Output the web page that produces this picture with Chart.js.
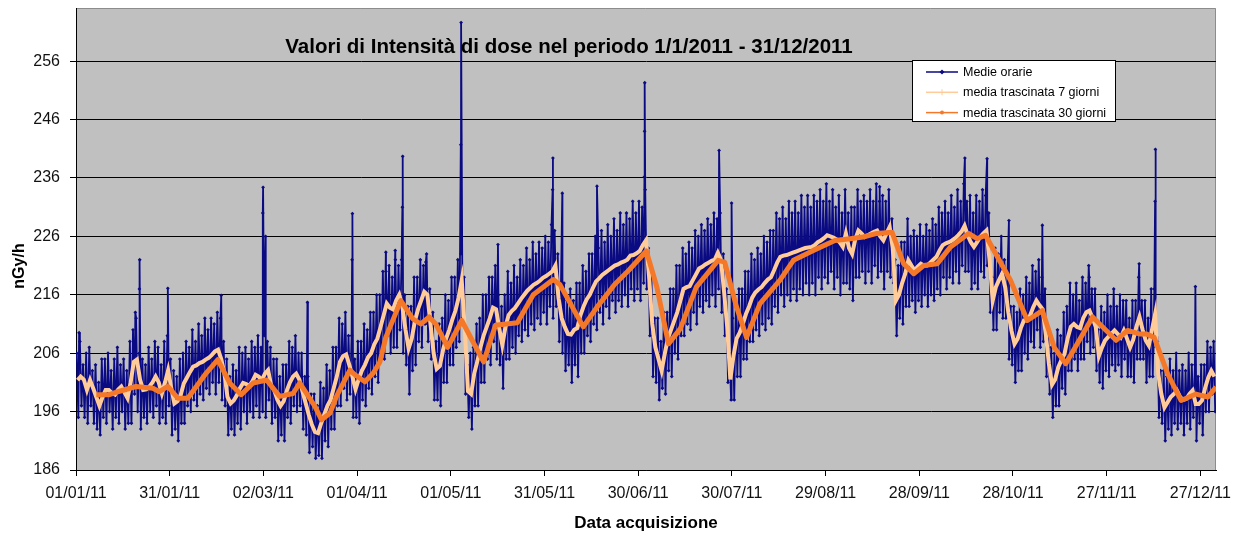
<!DOCTYPE html>
<html>
<head>
<meta charset="utf-8">
<title>Intensità di dose 2011</title>
<script src="https://cdn.jsdelivr.net/npm/chart.js@4.4.1/dist/chart.umd.min.js"></script>
<style>
  body { margin: 0; background: #fff; }
  canvas { display: block; }
</style>
</head>
<body>
<canvas id="doseChart" width="1242" height="539"></canvas>
<script>
// Dose rate 2011 (nGy/h), x = days since 01/01/2011

const chartTitle = 'Valori di Intensità di dose nel periodo 1/1/2011 - 31/12/2011';
const seriesNames = ['Medie orarie', 'media trascinata 7 giorni', 'media trascinata 30 giorni'];
const xTitle = 'Data acquisizione';
const yTitle = 'nGy/h';

const xTickDays = [0, 30, 60, 90, 120, 150, 180, 210, 240, 270, 300, 330, 360];
const dateLabels = ['01/01/11', '31/01/11', '02/03/11', '01/04/11', '01/05/11', '31/05/11', '30/06/11',
  '30/07/11', '29/08/11', '28/09/11', '28/10/11', '27/11/11', '27/12/11'];
const yTicks = [186, 196, 206, 216, 226, 236, 246, 256];

// hourly means: daily upper and lower envelope, one value per day
const hourlyHigh = [
  206, 208, 204, 206, 207, 203, 204, 201, 205, 205,
  206, 203, 205, 207, 204, 205, 203, 208, 210, 212,
  206, 205, 204, 207, 205, 208, 207, 204, 208, 209,
  205, 203, 202, 205, 206, 208, 207, 210, 208, 211,
  209, 212, 210, 212, 211, 213, 212, 208, 205, 202,
  204, 203, 207, 206, 207, 205, 208, 207, 209, 207,
  209, 208, 207, 205, 205, 202, 204, 204, 208, 207,
  209, 206, 206, 202, 202, 199, 199, 197, 201, 200,
  204, 203, 207, 207, 212, 211, 213, 209, 209, 205,
  208, 208, 211, 210, 213, 213, 216, 216, 220, 220,
  221, 219, 222, 221, 222, 216, 214, 214, 219, 219,
  222, 221, 223, 217, 213, 208, 211, 212, 216, 215,
  219, 219, 222, 223, 219, 204, 206, 207, 211, 212,
  216, 216, 219, 219, 221, 216, 214, 216, 220, 218,
  221, 219, 222, 221, 224, 222, 225, 223, 225, 224,
  226, 225, 228, 227, 223, 217, 218, 215, 217, 215,
  218, 218, 221, 220, 223, 223, 226, 224, 227, 225,
  228, 226, 229, 227, 230, 228, 230, 229, 232, 230,
  232, 231, 234, 224, 219, 212, 212, 208, 213, 213,
  217, 217, 221, 221, 224, 223, 225, 224, 227, 226,
  228, 227, 229, 228, 230, 229, 230, 223, 217, 206,
  212, 214, 217, 217, 220, 220, 223, 222, 224, 223,
  226, 225, 227, 227, 230, 229, 231, 229, 232, 230,
  232, 230, 233, 231, 233, 231, 233, 232, 234, 232,
  235, 232, 234, 231, 233, 230, 234, 230, 231, 231,
  234, 232, 233, 232, 234, 232, 235, 232, 233, 232,
  234, 229, 222, 221, 225, 225, 229, 226, 227, 226,
  228, 226, 228, 227, 229, 228, 231, 230, 232, 230,
  233, 231, 234, 232, 235, 232, 233, 230, 233, 232,
  234, 233, 230, 219, 224, 223, 226, 222, 220, 214,
  214, 213, 217, 216, 219, 218, 221, 220, 222, 219,
  217, 210, 207, 206, 210, 209, 213, 214, 218, 216,
  218, 215, 219, 218, 221, 217, 217, 210, 214, 213,
  216, 214, 217, 214, 216, 215, 215, 212, 215, 215,
  219, 215, 215, 212, 217, 217, 208, 203, 203, 202,
  205, 203, 206, 203, 204, 203, 206, 204, 204, 202,
  204, 204, 208, 207, 208
];
const hourlyLow = [
  195, 197, 195, 194, 197, 194, 193, 192, 195, 194,
  196, 193, 195, 194, 196, 193, 194, 194, 199, 196,
  193, 195, 194, 196, 195, 197, 194, 195, 194, 197,
  192, 193, 191, 194, 194, 197, 196, 198, 197, 199,
  198, 200, 199, 201, 199, 201, 198, 197, 192, 193,
  192, 194, 193, 196, 194, 196, 195, 197, 195, 196,
  195, 198, 194, 195, 191, 192, 191, 195, 194, 197,
  196, 197, 193, 192, 189, 190, 188, 188.5, 188, 191,
  190, 193, 193, 197, 197, 200, 198, 199, 195, 195,
  194, 198, 197, 200, 199, 202, 201, 205, 205, 209,
  206, 207, 207, 210, 206, 204, 199, 203, 204, 208,
  207, 211, 208, 205, 198, 198, 197, 201, 201, 204,
  204, 207, 208, 212, 199, 195, 193, 197, 197, 201,
  201, 205, 204, 208, 205, 204, 200, 205, 205, 207,
  206, 209, 208, 210, 209, 211, 210, 212, 211, 213,
  211, 214, 212, 214, 208, 206, 203, 204, 201, 204,
  202, 206, 206, 209, 208, 211, 210, 213, 211, 214,
  212, 215, 213, 215, 214, 216, 214, 217, 215, 217,
  215, 218, 217, 209, 202, 201, 198, 200, 199, 203,
  202, 206, 205, 209, 209, 211, 210, 213, 211, 214,
  213, 215, 214, 216, 214, 217, 213, 209, 201, 198,
  198, 202, 202, 205, 205, 208, 208, 210, 209, 211,
  210, 212, 211, 214, 213, 216, 214, 216, 215, 217,
  215, 217, 216, 218, 216, 218, 216, 219, 217, 219,
  218, 220, 217, 219, 216, 218, 218, 217, 215, 219,
  219, 220, 218, 220, 218, 221, 219, 220, 217, 220,
  219, 218, 209, 212, 211, 214, 214, 215, 213, 215,
  214, 216, 214, 216, 215, 217, 216, 219, 217, 219,
  218, 220, 218, 221, 220, 220, 217, 218, 217, 220,
  219, 221, 213, 210, 210, 213, 212, 212, 205, 204,
  201, 203, 203, 206, 205, 208, 207, 210, 207, 208,
  202, 199, 195, 197, 197, 200, 199, 203, 203, 205,
  203, 205, 205, 208, 206, 207, 203, 201, 200, 203,
  202, 204, 203, 204, 202, 205, 202, 202, 201, 205,
  205, 205, 201, 202, 202, 207, 195, 194, 191, 193,
  192, 194, 193, 194, 192, 194, 193, 195, 191, 194,
  192, 196, 196, 199, 196
];
// isolated hourly peaks: [day, nGy/h]
const hourlySpikes = [
  [1, 209.5], [19, 213], [20.3, 217], [20.4, 222], [29.4, 217.1], [46.5, 215.9],
  [59.8, 230], [59.9, 234.4], [60.7, 226], [74.1, 214.7], [88.4, 222], [88.5, 229.9],
  [99.2, 223.3], [102.2, 223.6], [104.5, 231], [104.6, 239.7], [112, 221.6],
  [123.2, 241.7], [123.3, 262.6], [135.1, 224.6], [152.6, 234], [152.7, 239.4],
  [155.7, 233.4], [166.8, 234.6], [182, 236.2], [182.05, 244], [182.1, 252.3],
  [205.9, 240.7], [209.9, 231.7], [257.3, 234.5], [284.6, 239.4], [291.7, 239.3],
  [298.7, 228.7], [309.4, 227.9], [324.4, 219], [340.4, 221.3], [345.5, 232],
  [345.6, 240.9], [358.4, 217.4]
];

// 7-day running mean, one value per day
const media7 = [
  201.4, 202, 201.5, 199.7, 201.4, 200, 198.5, 197, 198.5, 199.7,
  199.7, 199.2, 198.9, 199.8, 200.3, 199.3, 198.3, 201, 204.5, 204.9,
  201.5, 199.7, 199.8, 200.3, 201, 202, 201, 199.1, 201, 203.1,
  200, 197.4, 197.8, 198.8, 200.8, 201.8, 202.8, 203.7, 203.9, 204.3,
  204.5, 204.9, 205.2, 205.7, 206.3, 206.6, 205, 202.6, 198.5, 197.4,
  197.9, 198.8, 200, 200.9, 200.7, 200.4, 201.2, 202.3, 202, 201.4,
  202.5, 203.1, 200.5, 199.6, 198, 197, 197.8, 199.6, 201, 202,
  202.5, 201.5, 199.5, 197.5, 195.5, 193.8, 192.5, 192.3, 194, 195.5,
  197, 198, 200, 202, 204.5, 205.5, 205.8, 204, 202, 199.8,
  201.5, 203, 204, 205.3, 206, 207.5, 208.5, 210.5, 212.5, 214.5,
  213.8, 213.5, 215, 216, 214, 210, 206.8, 208.5, 211.5, 213.5,
  215, 216.5, 216, 211, 206, 203.3, 203.8, 206.5, 208.5, 210,
  211.8, 213.3, 215.5, 218.5, 210, 199.5, 199, 202.5, 204.6, 207,
  209, 210.5, 212, 213.8, 213.5, 210.3, 207.4, 210.5, 212.5, 213.2,
  213.7, 214.5, 215.3, 216, 216.7, 217.2, 217.7, 218, 218.4, 218.9,
  219.2, 219.6, 220, 221, 215.4, 212, 210.5, 209.3, 209.2, 210,
  210.3, 212.5, 214, 215.2, 216, 217.2, 218.3, 218.8, 219.4, 219.8,
  220.2, 220.6, 221, 221.2, 221.5, 221.7, 222, 222.7, 222.8, 223.1,
  223.5, 224.5, 225.3, 219, 211, 207, 205, 203, 205.9, 208.5,
  210, 211.5, 213, 215, 217, 217.3, 217.5, 218.5, 219.5, 220.5,
  220.8, 221.2, 221.5, 221.8, 222, 223.2, 222, 216.5, 210.5, 201.5,
  205.5, 208.5, 209.5, 211, 212.7, 214, 215.5, 216.4, 216.9, 217.3,
  218, 218.6, 219, 220.2, 221.5, 222.5, 222.7, 222.8, 223, 223.2,
  223.4, 223.6, 223.8, 224, 224.1, 224.2, 224.5, 225, 225.3, 225.7,
  226.2, 226, 225.8, 225.5, 225, 224.2, 226.5, 224, 223, 225.5,
  227, 226.5, 225.9, 226.2, 226.5, 226.8, 227, 226, 225.3, 226.5,
  227.6, 224, 215, 216, 218, 219.6, 221.9, 221, 220.2, 220.8,
  221.3, 221, 221, 221.5, 222, 222.5, 223.6, 224.5, 224.8, 225,
  225.3, 225.7, 226.2, 226.8, 227.8, 226.2, 225, 224.2, 225, 225.9,
  226.5, 227, 222, 215, 217.3, 218.5, 219.6, 217.3, 213, 209.9,
  207.6, 208.5, 210.3, 211.6, 211.6, 212.5, 213.9, 215, 214.2, 213.5,
  209.3, 204.2, 200.6, 201.5, 203.6, 204.8, 205.9, 208.5, 210.5, 211,
  210.5, 210.3, 212, 213, 213.3, 212, 210.5, 205.5, 207, 208.2,
  208.8, 209.3, 209.9, 209.3, 208.7, 209.9, 208.5, 207, 208.3, 210.5,
  212.2, 210, 208.2, 207.3, 210, 212.7, 202.5, 199, 196.7, 197.6,
  198.5, 199, 199.6, 198.5, 198, 198.2, 199, 199.6, 197.3, 197.3,
  197.9, 200, 201.8, 203, 202
];

// 30-day running mean: [day, nGy/h]
const media30 = [
  [6.5, 198.9], [10.7, 198.9], [13.4, 199.4], [19.2, 200.3], [24.6, 200], [26.7, 199.4],
  [29.4, 200.3], [32.6, 198.3], [35.8, 198.3], [41.7, 202.6], [45.4, 204.9], [49.2, 200.9],
  [52.9, 198.9], [56.7, 200.9], [61, 201.4], [65.2, 198.6], [69.5, 199.1], [71.6, 200.9],
  [73.8, 199.1], [76.5, 196.9], [78.6, 194.6], [81.3, 195.7], [83.4, 198.6], [87.7, 203.1],
  [89.3, 202.3], [92.5, 201.1], [95.2, 202.6], [97.3, 204.5], [99.2, 208.7], [104, 215],
  [107.8, 211.9], [110.4, 211], [113.1, 212.2], [115.2, 211], [119, 207], [123.5, 211.6],
  [130.5, 204.5], [134.3, 210.8], [141.3, 211.2], [146.4, 216], [152.8, 218.6], [155, 217.7],
  [162.4, 210.5], [166.7, 213.8], [172.5, 217.8], [177, 220.2], [182.6, 223.5], [186, 217.3],
  [189.7, 207.6], [193.5, 210.2], [198.6, 217.3], [205.6, 221.9], [207.7, 221.6], [211.5, 213.9],
  [214.7, 208.7], [219, 214.5], [225.4, 218.5], [229.7, 221.9], [236.1, 223.6], [243, 225.3],
  [247.9, 225.6], [252, 225.9], [256.4, 226.5], [261.3, 226.7], [265, 221.3], [268.2, 219.6],
  [271.4, 221], [275.7, 221.3], [280, 224.2], [285.8, 226.5], [288.5, 225.6], [291.2, 226.2],
  [295, 222.5], [299.2, 218.5], [304.6, 211.6], [309.4, 213.3], [313.2, 207], [316.9, 204.2],
  [325.5, 212.2], [333, 208.2], [336.7, 209.9], [340.4, 209.3], [342.6, 209.3], [345.2, 208.7],
  [349.5, 202.5], [353.8, 197.9], [358.6, 199], [362.4, 198.5], [365, 200.2]
];

const FONT = '"Liberation Sans", Arial, sans-serif';
const NAVY = '#0a0a82';
const PEACH = '#ffcc99';
const ORANGE = '#f47828';

// hourly points: high in the first half of each day, low in the second, peaks merged in
const hourlyPoints = [];
hourlyHigh.forEach((v, d) => {
  hourlyPoints.push({ x: d + 0.25, y: v });
  hourlyPoints.push({ x: d + 0.75, y: hourlyLow[d] });
});
hourlySpikes.forEach(([x, y]) => hourlyPoints.push({ x, y }));
hourlyPoints.sort((a, b) => a.x - b.x);

const media7Points = media7.map((v, d) => ({ x: d + 0.5, y: v }));
const media30Points = media30.map(([x, y]) => ({ x, y }));

// grey plot area, frame, title, y title and the boxed legend
const plotDecor = {
  id: 'plotDecor',
  beforeDraw(chart) {
    const { ctx, chartArea: a } = chart;
    ctx.save();
    ctx.fillStyle = '#c0c0c0';
    ctx.fillRect(a.left, a.top, a.right - a.left, a.bottom - a.top);
    ctx.strokeStyle = '#8c8c8c';
    ctx.lineWidth = 1;
    ctx.beginPath();
    ctx.moveTo(a.left, a.top + 0.5);
    ctx.lineTo(a.right - 0.5, a.top + 0.5);
    ctx.lineTo(a.right - 0.5, a.bottom);
    ctx.stroke();
    ctx.restore();
  },
  afterDraw(chart) {
    const ctx = chart.ctx;
    ctx.save();
    ctx.fillStyle = '#000';
    ctx.font = 'bold 20.5px ' + FONT;
    ctx.textAlign = 'center';
    ctx.textBaseline = 'alphabetic';
    ctx.fillText(chartTitle, 569, 53);

    ctx.save();
    ctx.translate(20, 266);
    ctx.rotate(-Math.PI / 2);
    ctx.font = 'bold 16px ' + FONT;
    ctx.textBaseline = 'middle';
    ctx.fillText(yTitle, 0, 0);
    ctx.restore();

    // legend box
    const bx = 912, by = 60, bw = 204, bh = 62;
    ctx.fillStyle = '#fff';
    ctx.fillRect(bx, by, bw, bh);
    ctx.strokeStyle = '#000';
    ctx.lineWidth = 1;
    ctx.strokeRect(bx + 0.5, by + 0.5, bw - 1, bh - 1);

    ctx.font = '12.5px ' + FONT;
    ctx.textAlign = 'left';
    ctx.textBaseline = 'middle';
    chart.data.datasets.forEach((ds, i) => {
      const y = 72 + i * 20.3;
      ctx.strokeStyle = ds.borderColor;
      ctx.lineWidth = 1.5;
      ctx.beginPath();
      ctx.moveTo(926, y);
      ctx.lineTo(958, y);
      ctx.stroke();
      ctx.fillStyle = ds.borderColor;
      if (i === 0) {
        ctx.beginPath();
        ctx.moveTo(942, y - 2.5);
        ctx.lineTo(944.5, y);
        ctx.lineTo(942, y + 2.5);
        ctx.lineTo(939.5, y);
        ctx.closePath();
        ctx.fill();
      } else if (i === 1) {
        ctx.lineWidth = 1;
        ctx.beginPath();
        ctx.moveTo(942, y - 3);
        ctx.lineTo(942, y + 3);
        ctx.stroke();
      } else {
        ctx.beginPath();
        ctx.arc(942, y, 2, 0, Math.PI * 2);
        ctx.fill();
      }
      ctx.fillStyle = '#000';
      ctx.fillText(ds.label, 963, y + 0.5);
    });
    ctx.restore();
  }
};

new Chart(document.getElementById('doseChart'), {
  type: 'line',
  data: {
    datasets: [{
      label: seriesNames[0],
      data: hourlyPoints,
      borderColor: NAVY,
      borderWidth: 1.8,
      pointStyle: 'rectRot',
      pointRadius: 1.9,
      pointBorderWidth: 0,
      pointBackgroundColor: NAVY,
      order: 2
    }, {
      label: seriesNames[1],
      data: media7Points,
      borderColor: PEACH,
      borderWidth: 4,
      pointRadius: 0,
      order: 1
    }, {
      label: seriesNames[2],
      data: media30Points,
      borderColor: ORANGE,
      borderWidth: 5,
      pointRadius: 0,
      borderJoinStyle: 'round',
      order: 0
    }]
  },
  options: {
    responsive: false,
    animation: false,
    devicePixelRatio: 1,
    layout: { padding: { left: 0, right: 26, top: 8, bottom: 0 } },
    plugins: {
      legend: { display: false },
      title: { display: false },
      tooltip: { enabled: false }
    },
    scales: {
      x: {
        type: 'linear',
        min: 0,
        max: 365,
        afterBuildTicks: (axis) => { axis.ticks = xTickDays.map(v => ({ value: v })); },
        afterFit: (axis) => { axis.height = 69; },
        ticks: {
          autoSkip: false,
          maxRotation: 0,
          padding: 8,
          color: '#111',
          font: { family: FONT, size: 16 },
          callback: (v, i) => dateLabels[i]
        },
        grid: { drawOnChartArea: false, color: '#000', tickLength: 6 },
        border: { color: '#000', width: 1 },
        title: {
          display: true,
          text: xTitle,
          color: '#000',
          font: { family: FONT, size: 17, weight: 'bold' },
          padding: { top: 5, bottom: 5 }
        }
      },
      y: {
        min: 186,
        max: 265.1,
        afterBuildTicks: (axis) => { axis.ticks = yTicks.map(v => ({ value: v })); },
        afterFit: (axis) => {
          axis.width = 76;
          axis.paddingTop = 0;
          axis.paddingBottom = 0;
        },
        ticks: {
          padding: 10,
          color: '#111',
          font: { family: FONT, size: 16 }
        },
        grid: { color: '#000', lineWidth: 1, tickLength: 6 },
        border: { color: '#000', width: 1 }
      }
    }
  },
  plugins: [plotDecor]
});
</script>
</body>
</html>
